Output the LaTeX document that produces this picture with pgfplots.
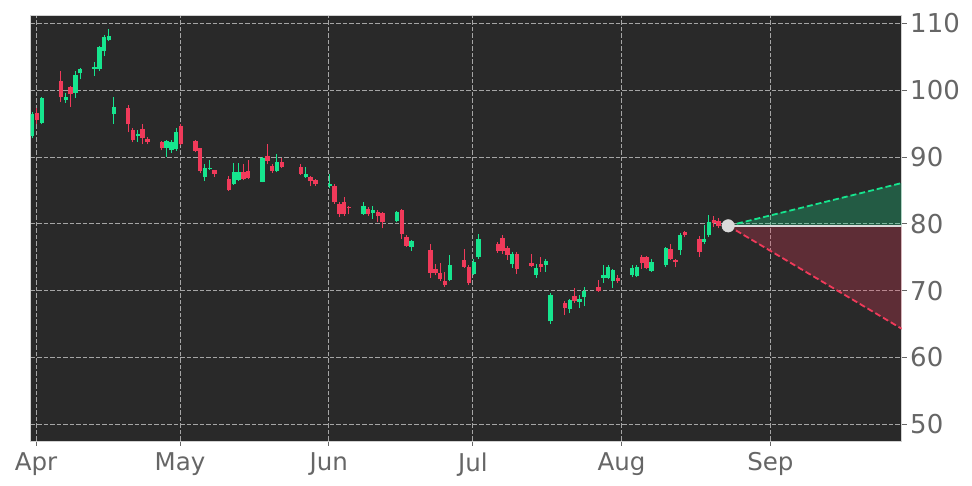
\documentclass[border=0pt]{standalone}
\usepackage{fontspec}
\setmainfont{DejaVu Sans}
\usepackage{pgfplots}
\usepackage{pgfplotstable}
\pgfplotsset{compat=1.18}
\definecolor{bg}{RGB}{41,41,41}
\definecolor{cup}{RGB}{22,229,142}
\definecolor{cdn}{RGB}{240,58,90}
\definecolor{lbl}{RGB}{102,102,102}
\definecolor{grd}{RGB}{165,165,165}
\definecolor{dotc}{RGB}{218,218,218}

% rising candles: x = days from 1 Apr
\pgfplotstableread{
x o h l c
-0.8 93.1 96.8 92.8 96.4
1.2 95.1 99.0 94.9 98.8
6.2 98.5 99.6 98.1 99.0
8.2 99.6 102.9 98.9 102.2
9.2 102.5 103.3 101.6 103.1
12.2 103.2 104.2 102.1 103.5
13.2 103.1 106.6 102.9 106.4
14.2 105.9 108.2 105.1 108.0
15.2 107.5 109.1 107.3 108.1
16.2 96.4 99.0 95.0 97.5
21.2 93.1 94.0 92.3 93.5
27.2 91.4 92.6 90.0 92.4
28.2 91.0 92.6 90.6 92.2
29.2 91.2 94.4 90.9 93.7
35.2 87.0 88.9 86.4 88.4
36.2 88.2 89.5 88.1 88.3
41.2 86.0 89.1 85.8 87.7
42.2 86.6 89.1 86.4 87.7
47.2 86.3 90.0 86.2 89.9
50.2 87.9 90.5 87.7 89.3
56.2 87.0 88.5 86.9 87.5
61.2 85.6 87.5 85.4 86.0
68.2 81.5 83.3 81.3 82.7
70.2 81.6 82.7 80.7 82.0
75.2 80.4 81.9 80.2 81.7
78.2 76.6 77.6 76.0 77.4
86.2 71.6 75.4 71.4 73.9
91.2 72.5 74.8 72.3 74.3
92.2 75.0 78.5 74.8 77.8
99.2 74.0 75.8 73.4 75.5
104.2 72.4 74.0 71.9 73.4
106.2 73.9 74.7 72.8 74.5
107.2 65.4 69.6 65.0 69.3
111.2 67.3 68.8 66.6 68.6
113.2 68.3 69.4 67.4 68.8
114.2 69.0 70.5 67.7 70.0
118.2 71.9 73.8 71.2 72.4
119.2 71.9 73.9 71.7 73.6
120.2 71.4 73.3 70.4 73.1
124.2 72.4 73.9 72.0 73.4
125.2 72.2 73.8 72.0 73.6
128.2 73.0 74.7 72.8 74.3
131.2 73.8 76.6 73.6 76.4
134.2 76.1 78.6 75.3 78.4
139.2 77.3 79.8 77.0 77.8
140.2 78.3 81.3 78.0 80.3
}\up

% falling candles
\pgfplotstableread{
x o h l c
0.2 96.6 97.4 94.9 95.5
5.2 101.3 102.8 98.2 99.0
7.2 100.4 100.6 97.5 99.4
19.2 97.3 97.8 93.7 94.9
20.2 94.1 94.3 92.2 92.5
22.2 94.2 94.9 91.9 92.9
23.2 92.7 93.0 91.9 92.3
26.2 92.2 92.4 91.0 91.3
30.2 94.6 94.9 91.8 92.0
33.2 92.4 92.6 90.7 90.9
34.2 91.3 91.4 87.6 87.9
37.2 88.0 88.1 87.0 87.5
40.2 86.7 87.2 84.9 85.1
43.2 87.7 88.9 86.5 86.7
44.2 87.9 89.6 86.7 86.9
48.2 90.2 91.9 88.9 89.4
49.2 88.6 89.0 87.6 87.9
51.2 89.2 89.9 88.3 88.5
55.2 88.5 88.9 87.3 87.5
57.2 87.0 87.2 85.6 86.4
58.2 86.5 86.7 85.7 85.9
62.2 85.7 85.9 83.0 83.2
63.2 82.9 83.2 81.0 81.4
64.2 83.2 84.0 81.2 81.4
65.2 82.5 82.7 81.4 82.3
69.2 82.2 82.5 81.2 81.4
71.2 81.8 82.0 80.2 81.1
72.2 81.6 81.8 79.3 80.2
76.2 82.0 82.2 77.8 78.5
77.2 78.1 78.3 76.5 76.7
82.2 76.1 77.0 71.9 72.7
83.2 73.3 74.0 72.3 72.7
84.2 72.7 74.1 71.5 71.7
85.2 71.4 72.8 70.6 70.8
89.2 74.6 76.2 73.4 73.6
90.2 73.6 73.8 70.9 71.2
96.2 77.0 77.3 75.7 75.9
97.2 77.9 78.3 75.5 76.0
98.2 76.4 76.7 74.6 75.4
100.2 75.5 75.8 72.5 73.2
103.2 74.1 75.5 73.5 73.7
105.2 74.0 75.1 72.8 73.6
110.2 68.2 68.5 66.4 67.4
112.2 69.2 70.4 68.2 68.4
117.2 70.5 71.6 69.8 70.0
121.2 71.9 72.4 71.2 71.4
126.2 75.1 75.3 73.3 74.1
127.2 75.0 75.2 73.2 73.4
132.2 76.3 77.0 74.6 74.8
133.2 74.6 74.8 73.5 74.3
135.2 78.8 79.0 78.0 78.4
138.2 77.8 78.2 75.1 75.8
141.2 80.5 81.2 79.5 80.1
142.2 80.4 80.8 79.3 79.6
}\dn

\begin{document}
\begin{tikzpicture}
\begin{axis}[
  scale only axis, width=871pt, height=426pt,
  xmin=-1.1, xmax=180.35, ymin=47.5, ymax=111.25,
  axis background/.style={fill=bg},
  axis line style={draw=black!18, line width=0.8pt},
  xtick={0,30,61,91,122,153}, xticklabels={Apr,May,Jun,Jul,Aug,Sep},
  ytick={50,60,...,110},
  xtick pos=lower, ytick pos=right, yticklabel pos=right,
  tick align=outside, major tick length=5pt,
  tick style={lbl, line width=0.8pt},
  grid=major, grid style={grd, dash pattern=on 4.5pt off 2pt, line width=0.7pt},
  ticklabel style={text=lbl},
  xticklabel style={font=\fontsize{24.5}{24.5}\selectfont, yshift=-3pt},
  yticklabel style={font=\fontsize{26}{26}\selectfont},
  /pgf/number format/assume math mode=true,
]
% wicks
\addplot[draw=none, mark=none, error bars/.cd, y dir=plus, y explicit,
  error mark=none, error bar style={draw=cup, line width=1pt}]
  table[x=x, y=l, y error plus expr={\thisrow{h}-\thisrow{l}}] {\up};
\addplot[draw=none, mark=none, error bars/.cd, y dir=plus, y explicit,
  error mark=none, error bar style={draw=cdn, line width=1pt}]
  table[x=x, y=l, y error plus expr={\thisrow{h}-\thisrow{l}}] {\dn};
% bodies
\addplot[draw=none, mark=none, error bars/.cd, y dir=plus, y explicit,
  error mark=none, error bar style={draw=cup, line width=4.4pt}]
  table[x=x, y=o, y error plus expr={\thisrow{c}-\thisrow{o}}] {\up};
\addplot[draw=none, mark=none, error bars/.cd, y dir=plus, y explicit,
  error mark=none, error bar style={draw=cdn, line width=4.4pt}]
  table[x=x, y=c, y error plus expr={\thisrow{o}-\thisrow{c}}] {\dn};
% forecast cone
\addplot[draw=none, fill=cup, fill opacity=0.27]
  coordinates {(144.2,79.7) (180.35,86.1) (180.35,79.7) (144.2,79.7)};
\addplot[draw=none, fill=cdn, fill opacity=0.27]
  coordinates {(144.2,79.7) (180.35,64.3) (180.35,79.7) (144.2,79.7)};
\addplot[cup, line width=1.8pt, dash pattern=on 6pt off 3pt]
  coordinates {(144.2,79.7) (180.35,86.1)};
\addplot[cdn, line width=1.8pt, dash pattern=on 6pt off 3pt]
  coordinates {(144.2,79.7) (180.35,64.3)};
\addplot[dotc, line width=2pt] coordinates {(144.2,79.7) (180.35,79.7)};
\addplot[only marks, mark=*, mark size=6.3pt, mark options={fill=dotc, draw=dotc}]
  coordinates {(144.2,79.7)};
\end{axis}
\pgfresetboundingbox
\path ([shift={(-30.7pt,-45pt)}]current axis.south west) rectangle ([shift={(70.3pt,15pt)}]current axis.north east);
\end{tikzpicture}
\end{document}
